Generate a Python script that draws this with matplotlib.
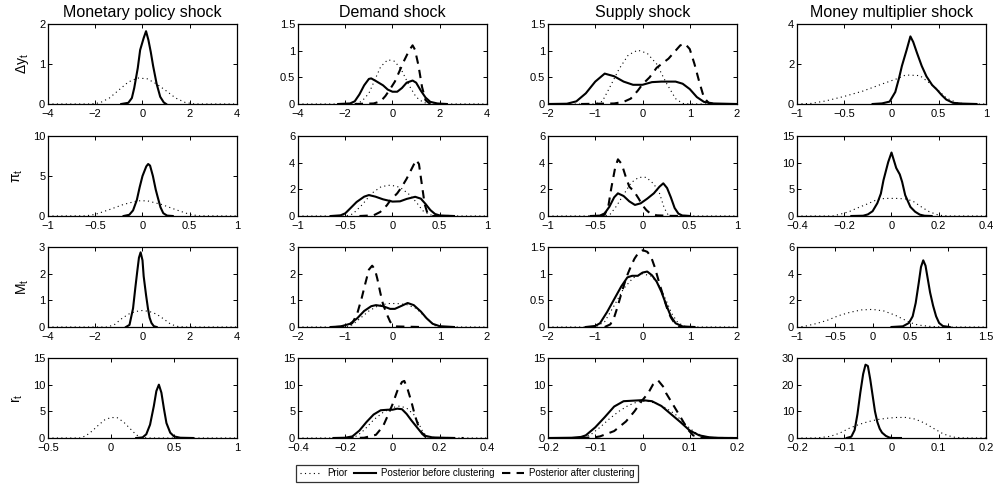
import matplotlib
matplotlib.use("Agg")
import matplotlib.pyplot as plt
from matplotlib.lines import Line2D
from matplotlib.ticker import FuncFormatter

plt.rcParams["font.family"] = ["Liberation Sans", "DejaVu Sans"]
plt.rcParams["mathtext.fontset"] = "custom"
plt.rcParams["mathtext.rm"] = "Liberation Sans"
plt.rcParams["mathtext.it"] = "Liberation Sans"

shocks = ["Monetary policy shock", "Demand shock", "Supply shock", "Money multiplier shock"]
variables = [r"$\Delta y_t$", r"$\pi_t$", r"$M_t$", r"$r_t$"]
legend_labels = ["Prior", "Posterior before clustering", "Posterior after clustering"]

# ---- row 1: output growth ----
mon_dy_prior = [(-4, 0), (-2.2, 0), (-1.8, 0.03), (-1.4, 0.15), (-1.0, 0.35), (-0.6, 0.55), (-0.2, 0.65),
                (0.2, 0.63), (0.6, 0.5), (1.0, 0.33), (1.4, 0.15), (1.8, 0.04), (2.2, 0), (4, 0)]
mon_dy_before = [(-0.9, 0), (-0.6, 0.03), (-0.45, 0.15), (-0.35, 0.4), (-0.2, 0.9), (-0.1, 1.35), (0.05, 1.65),
                 (0.15, 1.82), (0.25, 1.6), (0.35, 1.3), (0.45, 0.95), (0.6, 0.5), (0.75, 0.18), (0.9, 0.04), (1.0, 0)]
dem_dy_prior = [(-4, 0), (-1.6, 0), (-1.3, 0.05), (-1.0, 0.2), (-0.8, 0.4), (-0.5, 0.7), (-0.2, 0.83), (0.1, 0.8),
                (0.4, 0.62), (0.7, 0.35), (1.0, 0.13), (1.3, 0.03), (1.6, 0), (4, 0)]
dem_dy_before = [(-2.3, 0), (-1.8, 0.01), (-1.6, 0.05), (-1.4, 0.18), (-1.2, 0.35), (-1.0, 0.47), (-0.9, 0.48),
                 (-0.7, 0.43), (-0.4, 0.35), (-0.2, 0.27), (0.0, 0.23), (0.2, 0.23), (0.4, 0.3), (0.6, 0.4),
                 (0.85, 0.44), (1.0, 0.4), (1.2, 0.25), (1.4, 0.12), (1.6, 0.04), (1.9, 0.01), (2.3, 0)]
dem_dy_after = [(-1.6, 0), (-0.8, 0.01), (-0.5, 0.05), (-0.3, 0.15), (-0.1, 0.28), (0.1, 0.42), (0.3, 0.62),
                (0.5, 0.82), (0.7, 1.0), (0.85, 1.1), (0.95, 1.02), (1.1, 0.72), (1.25, 0.32), (1.4, 0.07), (1.6, 0)]
sup_dy_prior = [(-2, 0), (-1.0, 0), (-0.85, 0.05), (-0.7, 0.3), (-0.5, 0.65), (-0.3, 0.92), (-0.1, 1.01),
                (0.1, 0.95), (0.3, 0.75), (0.5, 0.4), (0.7, 0.1), (0.85, 0.01), (1.0, 0), (2, 0)]
sup_dy_before = [(-2, 0), (-1.6, 0.005), (-1.4, 0.05), (-1.2, 0.2), (-1.0, 0.42), (-0.8, 0.57), (-0.6, 0.52),
                 (-0.4, 0.42), (-0.2, 0.36), (0.0, 0.36), (0.2, 0.41), (0.4, 0.42), (0.7, 0.42), (0.85, 0.38),
                 (1.0, 0.28), (1.15, 0.13), (1.3, 0.04), (1.5, 0.01), (2, 0)]
sup_dy_after = [(-1.3, 0), (-0.6, 0.01), (-0.4, 0.04), (-0.25, 0.1), (-0.1, 0.25), (0.0, 0.37), (0.15, 0.5),
                (0.3, 0.68), (0.55, 0.85), (0.8, 1.1), (0.9, 1.13), (1.0, 1.03), (1.1, 0.75), (1.2, 0.42),
                (1.3, 0.12), (1.4, 0.02), (1.5, 0)]
mm_dy_prior = [(-1, 0), (-0.85, 0.03), (-0.7, 0.15), (-0.5, 0.38), (-0.3, 0.65), (-0.1, 1.0), (0.05, 1.25),
               (0.15, 1.45), (0.3, 1.42), (0.45, 0.88), (0.58, 0.3), (0.7, 0.05), (0.8, 0), (1, 0)]
mm_dy_before = [(-0.2, 0), (-0.1, 0.03), (-0.02, 0.12), (0.04, 0.6), (0.08, 1.3), (0.11, 1.9), (0.16, 2.7),
                (0.2, 3.38), (0.23, 3.1), (0.27, 2.55), (0.32, 1.9), (0.37, 1.38), (0.43, 0.95), (0.48, 0.72),
                (0.53, 0.45), (0.58, 0.22), (0.65, 0.06), (0.75, 0.02), (0.9, 0)]

# ---- row 2: inflation ----
mon_pi_prior = [(-1, 0), (-0.6, 0.02), (-0.5, 0.2), (-0.35, 0.8), (-0.2, 1.45), (-0.05, 1.9), (0.05, 1.9),
                (0.2, 1.45), (0.35, 0.8), (0.5, 0.2), (0.6, 0.02), (1, 0)]
mon_pi_before = [(-0.2, 0), (-0.14, 0.15), (-0.1, 0.7), (-0.06, 2.0), (-0.03, 3.6), (0.0, 5.0), (0.04, 6.2),
                 (0.06, 6.5), (0.08, 6.3), (0.11, 5.0), (0.14, 3.3), (0.16, 2.4), (0.19, 1.1), (0.22, 0.35),
                 (0.26, 0.05), (0.32, 0)]
dem_pi_prior = [(-1, 0), (-0.5, 0), (-0.42, 0.15), (-0.32, 0.85), (-0.22, 1.7), (-0.12, 2.2), (-0.02, 2.32),
                (0.08, 2.15), (0.18, 1.6), (0.25, 1.05), (0.32, 0.4), (0.4, 0.08), (0.5, 0), (1, 0)]
dem_pi_before = [(-0.65, 0), (-0.55, 0.05), (-0.5, 0.2), (-0.45, 0.55), (-0.38, 1.05), (-0.3, 1.45), (-0.25, 1.57),
                 (-0.18, 1.45), (-0.1, 1.25), (0.0, 1.08), (0.08, 1.1), (0.15, 1.28), (0.24, 1.44), (0.3, 1.3),
                 (0.35, 0.9), (0.4, 0.45), (0.45, 0.15), (0.5, 0.04), (0.65, 0)]
dem_pi_after = [(-0.35, 0), (-0.2, 0.05), (-0.13, 0.3), (-0.06, 0.8), (-0.02, 1.2), (0.05, 1.7), (0.1, 2.2),
                (0.15, 2.8), (0.2, 3.5), (0.25, 4.2), (0.28, 3.9), (0.31, 2.4), (0.34, 0.9), (0.37, 0.2),
                (0.42, 0), (0.6, 0)]
sup_pi_prior = [(-1, 0), (-0.4, 0), (-0.34, 0.15), (-0.28, 0.7), (-0.2, 1.6), (-0.12, 2.5), (-0.04, 2.9),
                (0.04, 2.9), (0.12, 2.4), (0.18, 1.7), (0.23, 0.6), (0.27, 0.1), (0.32, 0), (1, 0)]
sup_pi_before = [(-0.55, 0), (-0.45, 0.03), (-0.4, 0.2), (-0.35, 0.7), (-0.3, 1.4), (-0.26, 1.7), (-0.2, 1.5),
                 (-0.14, 1.1), (-0.08, 0.83), (-0.02, 0.95), (0.05, 1.3), (0.12, 1.7), (0.18, 2.2), (0.22, 2.45),
                 (0.26, 2.1), (0.3, 1.4), (0.34, 0.6), (0.38, 0.18), (0.42, 0.04), (0.5, 0)]
sup_pi_after = [(-0.45, 0), (-0.4, 0.1), (-0.36, 0.8), (-0.33, 2.1), (-0.29, 3.6), (-0.26, 4.25), (-0.22, 3.9),
                (-0.18, 3.0), (-0.14, 2.2), (-0.09, 1.85), (-0.04, 1.3), (0.0, 0.8), (0.04, 0.45), (0.08, 0.2),
                (0.15, 0.05), (0.3, 0.01), (0.5, 0)]
mm_pi_prior = [(-0.4, 0), (-0.25, 0), (-0.22, 0.3), (-0.18, 0.8), (-0.15, 1.4), (-0.1, 2.3), (-0.07, 2.9),
               (-0.03, 3.3), (0.02, 3.3), (0.06, 3.2), (0.09, 2.8), (0.13, 1.6), (0.16, 0.8), (0.2, 0.15),
               (0.24, 0), (0.4, 0)]
mm_pi_before = [(-0.17, 0), (-0.12, 0.05), (-0.1, 0.3), (-0.08, 0.9), (-0.06, 2.4), (-0.045, 4.2), (-0.034, 6.7),
                (-0.014, 10.1), (0.0, 11.9), (0.02, 9.0), (0.035, 7.8), (0.045, 6.4), (0.058, 3.9), (0.08, 1.7),
                (0.1, 0.8), (0.12, 0.25), (0.14, 0.05), (0.17, 0)]

# ---- row 3: money ----
mon_m_prior = [(-4, 0), (-1.5, 0), (-1.2, 0.08), (-0.9, 0.3), (-0.6, 0.48), (-0.3, 0.58), (0.0, 0.62), (0.3, 0.58),
               (0.6, 0.48), (0.9, 0.3), (1.2, 0.1), (1.5, 0.02), (1.8, 0), (4, 0)]
mon_m_before = [(-0.7, 0), (-0.55, 0.08), (-0.4, 0.7), (-0.3, 1.5), (-0.22, 2.1), (-0.15, 2.6), (-0.08, 2.8),
                (0.0, 2.5), (0.05, 1.9), (0.15, 1.2), (0.23, 0.7), (0.3, 0.35), (0.38, 0.15), (0.48, 0.03), (0.6, 0)]
dem_m_prior = [(-2, 0), (-1.0, 0), (-0.85, 0.08), (-0.7, 0.3), (-0.5, 0.6), (-0.3, 0.8), (-0.1, 0.88), (0.1, 0.88),
               (0.3, 0.84), (0.5, 0.7), (0.65, 0.45), (0.8, 0.2), (0.9, 0.05), (1.0, 0), (2, 0)]
dem_m_before = [(-1.3, 0), (-1.1, 0.02), (-0.9, 0.12), (-0.75, 0.32), (-0.6, 0.6), (-0.45, 0.78), (-0.35, 0.82),
                (-0.2, 0.78), (-0.05, 0.68), (0.05, 0.68), (0.2, 0.8), (0.32, 0.9), (0.45, 0.82), (0.6, 0.58),
                (0.72, 0.33), (0.85, 0.12), (1.0, 0.03), (1.3, 0)]
dem_m_after = [(-1.2, 0), (-0.95, 0.03), (-0.85, 0.15), (-0.75, 0.48), (-0.65, 1.1), (-0.58, 1.6), (-0.5, 2.15),
               (-0.43, 2.3), (-0.37, 2.15), (-0.32, 1.8), (-0.26, 1.3), (-0.2, 0.85), (-0.12, 0.48), (-0.05, 0.2),
               (0.0, 0.08), (0.1, 0.02), (0.6, 0)]
sup_m_prior = [(-2, 0), (-1.0, 0), (-0.8, 0.1), (-0.6, 0.4), (-0.4, 0.72), (-0.2, 0.92), (0.0, 1.0), (0.2, 0.95),
               (0.35, 0.78), (0.5, 0.5), (0.62, 0.25), (0.75, 0.08), (0.9, 0.01), (1.1, 0), (2, 0)]
sup_m_before = [(-1.2, 0), (-1.0, 0.02), (-0.9, 0.07), (-0.75, 0.28), (-0.6, 0.52), (-0.45, 0.76), (-0.32, 0.93),
                (-0.22, 0.96), (-0.1, 0.96), (0.0, 1.02), (0.1, 1.04), (0.2, 0.97), (0.3, 0.85), (0.4, 0.66),
                (0.5, 0.42), (0.6, 0.2), (0.7, 0.07), (0.85, 0.01), (1.1, 0)]
sup_m_after = [(-0.8, 0), (-0.68, 0.05), (-0.6, 0.18), (-0.52, 0.4), (-0.45, 0.62), (-0.38, 0.82), (-0.31, 1.0),
               (-0.24, 1.15), (-0.17, 1.28), (-0.08, 1.4), (0.01, 1.44), (0.1, 1.41), (0.18, 1.32), (0.26, 1.12),
               (0.36, 0.81), (0.45, 0.55), (0.52, 0.35), (0.6, 0.18), (0.68, 0.07), (0.8, 0), (1.0, 0)]
mm_m_prior = [(-1, 0), (-0.9, 0.05), (-0.75, 0.25), (-0.6, 0.5), (-0.45, 0.85), (-0.3, 1.1), (-0.15, 1.28),
              (0.0, 1.32), (0.15, 1.2), (0.3, 0.88), (0.4, 0.6), (0.5, 0.33), (0.6, 0.15), (0.75, 0.05),
              (0.9, 0.01), (1.0, 0), (1.5, 0)]
mm_m_before = [(0.25, 0), (0.4, 0.05), (0.48, 0.3), (0.53, 0.8), (0.57, 1.8), (0.61, 3.3), (0.64, 4.5), (0.67, 5.0),
               (0.7, 4.6), (0.73, 3.6), (0.76, 2.6), (0.8, 1.6), (0.84, 0.8), (0.88, 0.3), (0.93, 0.07), (1.02, 0)]

# ---- row 4: interest rate ----
mon_r_prior = [(-0.5, 0), (-0.25, 0), (-0.2, 0.4), (-0.15, 1.3), (-0.1, 2.4), (-0.05, 3.4), (0.0, 3.85),
               (0.05, 3.8), (0.1, 3.0), (0.15, 1.8), (0.2, 0.6), (0.24, 0.1), (0.3, 0), (1, 0)]
mon_r_before = [(0.2, 0), (0.25, 0.1), (0.28, 0.7), (0.31, 2.5), (0.34, 6.0), (0.36, 8.8), (0.38, 10.0),
                (0.4, 8.5), (0.42, 5.5), (0.44, 2.8), (0.47, 1.0), (0.5, 0.3), (0.55, 0.05), (0.65, 0)]
dem_r_prior = [(-0.4, 0), (-0.18, 0), (-0.15, 0.4), (-0.12, 1.5), (-0.08, 3.4), (-0.04, 4.8), (0.0, 5.7),
               (0.03, 6.0), (0.06, 5.6), (0.09, 4.4), (0.11, 2.8), (0.13, 1.0), (0.15, 0.2), (0.18, 0), (0.4, 0)]
dem_r_before = [(-0.25, 0), (-0.2, 0.05), (-0.17, 0.3), (-0.14, 1.4), (-0.11, 3.0), (-0.08, 4.4), (-0.05, 5.2),
                (-0.02, 5.3), (0.0, 5.3), (0.02, 5.5), (0.04, 5.4), (0.06, 4.5), (0.08, 3.3), (0.1, 2.2),
                (0.12, 1.1), (0.14, 0.4), (0.17, 0.1), (0.26, 0)]
dem_r_after = [(-0.2, 0), (-0.12, 0.05), (-0.07, 0.6), (-0.04, 2.2), (-0.02, 4.2), (0.0, 6.3), (0.02, 8.8),
               (0.04, 10.5), (0.05, 10.7), (0.065, 9.0), (0.08, 6.8), (0.095, 4.2), (0.11, 2.2), (0.125, 0.8),
               (0.14, 0.2), (0.18, 0), (0.3, 0)]
sup_r_prior = [(-0.2, 0), (-0.13, 0), (-0.11, 0.6), (-0.09, 2.0), (-0.07, 3.6), (-0.05, 5.0), (-0.03, 6.1),
               (-0.01, 6.8), (0.01, 6.9), (0.03, 6.5), (0.05, 5.6), (0.07, 4.4), (0.09, 2.6), (0.11, 1.1),
               (0.13, 0.3), (0.15, 0.05), (0.18, 0), (0.2, 0)]
sup_r_before = [(-0.2, 0), (-0.15, 0.05), (-0.13, 0.2), (-0.12, 0.5), (-0.1, 2.0), (-0.08, 3.9), (-0.06, 5.9),
                (-0.04, 6.9), (-0.02, 7.0), (0.0, 7.1), (0.02, 6.9), (0.04, 6.0), (0.06, 4.5), (0.08, 3.0),
                (0.1, 1.4), (0.12, 0.5), (0.14, 0.15), (0.16, 0.03), (0.19, 0)]
sup_r_after = [(-0.13, 0), (-0.1, 0.15), (-0.09, 0.3), (-0.06, 1.3), (-0.035, 3.1), (-0.017, 5.0), (-0.002, 6.9),
               (0.012, 8.4), (0.022, 10.0), (0.033, 10.8), (0.045, 9.5), (0.05, 8.4), (0.065, 6.2), (0.082, 3.7),
               (0.096, 1.6), (0.107, 0.5), (0.12, 0.1), (0.14, 0), (0.2, 0)]
mm_r_prior = [(-0.2, 0), (-0.16, 0), (-0.13, 0.6), (-0.11, 1.8), (-0.09, 3.6), (-0.07, 5.0), (-0.05, 6.1),
              (-0.03, 6.9), (-0.01, 7.4), (0.01, 7.7), (0.03, 7.7), (0.05, 7.1), (0.07, 5.6), (0.09, 3.5),
              (0.11, 1.5), (0.13, 0.35), (0.15, 0.05), (0.17, 0), (0.2, 0)]
mm_r_before = [(-0.095, 0), (-0.085, 0.5), (-0.078, 3), (-0.072, 9), (-0.066, 17), (-0.06, 24), (-0.055, 27.5),
               (-0.05, 27), (-0.045, 22), (-0.04, 16), (-0.035, 10), (-0.03, 6), (-0.025, 3.5), (-0.02, 2),
               (-0.012, 0.8), (-0.005, 0.2), (0.002, 0), (0.02, 0)]

# (prior, before, after), xticks, yticks per panel
panels = [
    [(mon_dy_prior, mon_dy_before, None, [-4, -2, 0, 2, 4], [0, 1, 2]),
     (dem_dy_prior, dem_dy_before, dem_dy_after, [-4, -2, 0, 2, 4], [0, 0.5, 1, 1.5]),
     (sup_dy_prior, sup_dy_before, sup_dy_after, [-2, -1, 0, 1, 2], [0, 0.5, 1, 1.5]),
     (mm_dy_prior, mm_dy_before, None, [-1, -0.5, 0, 0.5, 1], [0, 2, 4])],
    [(mon_pi_prior, mon_pi_before, None, [-1, -0.5, 0, 0.5, 1], [0, 5, 10]),
     (dem_pi_prior, dem_pi_before, dem_pi_after, [-1, -0.5, 0, 0.5, 1], [0, 2, 4, 6]),
     (sup_pi_prior, sup_pi_before, sup_pi_after, [-1, -0.5, 0, 0.5, 1], [0, 2, 4, 6]),
     (mm_pi_prior, mm_pi_before, None, [-0.4, -0.2, 0, 0.2, 0.4], [0, 5, 10, 15])],
    [(mon_m_prior, mon_m_before, None, [-4, -2, 0, 2, 4], [0, 1, 2, 3]),
     (dem_m_prior, dem_m_before, dem_m_after, [-2, -1, 0, 1, 2], [0, 1, 2, 3]),
     (sup_m_prior, sup_m_before, sup_m_after, [-2, -1, 0, 1, 2], [0, 0.5, 1, 1.5]),
     (mm_m_prior, mm_m_before, None, [-1, -0.5, 0, 0.5, 1, 1.5], [0, 2, 4, 6])],
    [(mon_r_prior, mon_r_before, None, [-0.5, 0, 0.5, 1], [0, 5, 10, 15]),
     (dem_r_prior, dem_r_before, dem_r_after, [-0.4, -0.2, 0, 0.2, 0.4], [0, 5, 10, 15]),
     (sup_r_prior, sup_r_before, sup_r_after, [-0.2, -0.1, 0, 0.1, 0.2], [0, 5, 10, 15]),
     (mm_r_prior, mm_r_before, None, [-0.2, -0.1, 0, 0.1, 0.2], [0, 10, 20, 30])],
]

W, H = 995, 487
col_left = [48, 298, 548, 797]
row_top = [24, 136, 247, 358]
ax_w, ax_h = 189, 80

PRIOR_STYLE = dict(color="black", lw=0.8, linestyle=(0, (1, 3)))
BEFORE_STYLE = dict(color="black", lw=1.5, linestyle="-")
AFTER_STYLE = dict(color="black", lw=1.5, linestyle=(0, (4, 3)))


def fmt(v, _pos):
    return f"{v:g}".replace("-", "\u2212")


def unzip(pts):
    return [p[0] for p in pts], [p[1] for p in pts]


fig = plt.figure(figsize=(W / 100, H / 100), dpi=100)

for r in range(4):
    for c in range(4):
        prior, before, after, xt, yt = panels[r][c]
        ax = fig.add_axes([col_left[c] / W, 1 - (row_top[r] + ax_h) / H, ax_w / W, ax_h / H])
        ax.plot(*unzip(prior), **PRIOR_STYLE)
        if after is not None:
            ax.plot(*unzip(after), **AFTER_STYLE)
        ax.plot(*unzip(before), **BEFORE_STYLE)
        ax.set_xlim(xt[0], xt[-1])
        ax.set_ylim(yt[0], yt[-1])
        ax.set_xticks(xt)
        ax.set_yticks(yt)
        ax.xaxis.set_major_formatter(FuncFormatter(fmt))
        ax.yaxis.set_major_formatter(FuncFormatter(fmt))
        ax.tick_params(direction="in", top=True, right=True, length=3, width=0.7, labelsize=8)
        ax.tick_params(axis="x", pad=3.5)
        ax.tick_params(axis="y", pad=2)
        for s in ax.spines.values():
            s.set_linewidth(0.9)
        if r == 0:
            ax.set_title(shocks[c], fontsize=11.5, pad=5)
        if c == 0:
            ax.set_ylabel(variables[r], fontsize=10, labelpad=6)

handles = [Line2D([], [], **PRIOR_STYLE), Line2D([], [], **BEFORE_STYLE), Line2D([], [], **AFTER_STYLE)]
leg = fig.legend(handles, legend_labels, loc="center", bbox_to_anchor=(467 / W, 1 - 473.5 / H),
                 ncol=3, fontsize=7, frameon=True, fancybox=False, edgecolor="black",
                 handlelength=2.3, columnspacing=0.7, handletextpad=0.5, borderpad=0.35)
leg.get_frame().set_linewidth(0.9)

fig.savefig("out.png", dpi=100)
